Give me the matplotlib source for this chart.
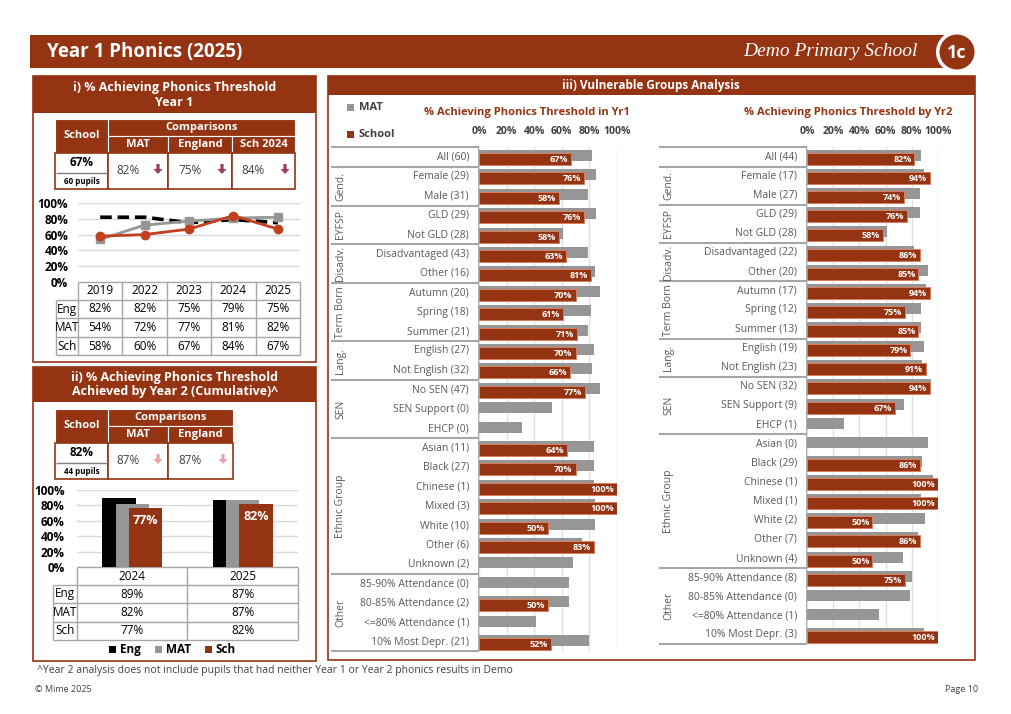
import numpy as np
import matplotlib
matplotlib.use('Agg')
import matplotlib.pyplot as plt
from matplotlib.patches import Rectangle, Circle, Polygon

plt.rcParams['font.family'] = ['Open Sans', 'DejaVu Sans']

# ---------------- data ----------------
years_y1 = ['2019', '2022', '2023', '2024', '2025']
eng_y1 = [82, 82, 75, 79, 75]
mat_y1 = [54, 72, 77, 81, 82]
sch_y1 = [58, 60, 67, 84, 67]

years_y2 = ['2024', '2025']
eng_y2 = [89, 87]
mat_y2 = [82, 87]
sch_y2 = [77, 82]

y1_school, y1_pupils = '67%', '60 pupils'
y1_comp_labels = ['MAT', 'England', 'Sch 2024']
y1_comp_values = ['82%', '75%', '84%']
y2_school, y2_pupils = '82%', '44 pupils'
y2_comp_labels = ['MAT', 'England']
y2_comp_values = ['87%', '87%']

groups = ['', 'Gend.', 'EYFSP', 'Disadv.', 'Term Born', 'Lang.', 'SEN', 'Ethnic Group', 'Other']
group_sizes = [1, 2, 2, 2, 3, 2, 3, 7, 4]

yr1_labels = ['All (60)', 'Female (29)', 'Male (31)', 'GLD (29)', 'Not GLD (28)',
              'Disadvantaged (43)', 'Other (16)', 'Autumn (20)', 'Spring (18)', 'Summer (21)',
              'English (27)', 'Not English (32)', 'No SEN (47)', 'SEN Support (0)', 'EHCP (0)',
              'Asian (11)', 'Black (27)', 'Chinese (1)', 'Mixed (3)', 'White (10)', 'Other (6)',
              'Unknown (2)', '85-90% Attendance (0)', '80-85% Attendance (2)',
              '<=80% Attendance (1)', '10% Most Depr. (21)']
yr1_mat = [82, 85, 79, 85, 61, 79, 84, 88, 81, 79, 83, 82, 88, 53, 31,
           83, 83, 83, 84, 84, 75, 68, 65, 65, 41, 80]
yr1_sch = [67, 76, 58, 76, 58, 63, 81, 70, 61, 71, 70, 66, 77, np.nan, np.nan,
           64, 70, 100, 100, 50, 83, np.nan, np.nan, 50, np.nan, 52]

yr2_labels = ['All (44)', 'Female (17)', 'Male (27)', 'GLD (29)', 'Not GLD (28)',
              'Disadvantaged (22)', 'Other (20)', 'Autumn (17)', 'Spring (12)', 'Summer (13)',
              'English (19)', 'Not English (23)', 'No SEN (32)', 'SEN Support (9)', 'EHCP (1)',
              'Asian (0)', 'Black (29)', 'Chinese (1)', 'Mixed (1)', 'White (2)', 'Other (7)',
              'Unknown (4)', '85-90% Attendance (8)', '80-85% Attendance (0)',
              '<=80% Attendance (1)', '10% Most Depr. (3)']
yr2_mat = [87, 89, 86, 86, 61, 82, 92, 91, 87, 87, 89, 88, 95, 74, 28,
           92, 88, 96, 87, 90, 85, 73, 80, 79, 55, 89]
yr2_sch = [82, 94, 74, 76, 58, 86, 85, 94, 75, 85, 79, 91, 94, 67, np.nan,
           np.nan, 86, 100, 100, 50, 86, 50, 75, np.nan, np.nan, 100]

# ---------------- style ----------------
RED = '#943412'
GREY = '#969696'
LINE = '#a6a6a6'
TXT = '#404040'
W, H = 1012, 714

fig = plt.figure(figsize=(W / 100, H / 100), dpi=100)
bg = fig.add_axes([0, 0, 1, 1])
bg.set_xlim(0, W)
bg.set_ylim(H, 0)
bg.axis('off')


def rect(x0, y0, x1, y1, fc='none', ec='none', lw=1.0, z=1):
    bg.add_patch(Rectangle((x0, y0), x1 - x0, y1 - y0, facecolor=fc, edgecolor=ec,
                           linewidth=lw, zorder=z))


def txt(x, y, s, size=8, color='black', weight='normal', ha='center', va='center', **kw):
    bg.text(x, y, s, fontsize=size, color=color, fontweight=weight, ha=ha, va=va, **kw)


def hline(x0, x1, y, color=LINE, lw=1.0, z=2):
    bg.plot([x0, x1], [y, y], color=color, lw=lw, zorder=z, solid_capstyle='butt')


def vline(x, y0, y1, color=LINE, lw=1.0, z=2):
    bg.plot([x, x], [y0, y1], color=color, lw=lw, zorder=z, solid_capstyle='butt')


def ax_at(x0, y0, x1, y1):
    a = fig.add_axes([x0 / W, 1 - y1 / H, (x1 - x0) / W, (y1 - y0) / H])
    a.patch.set_alpha(0)
    return a


def down_arrow(cx, cy, color):
    pts = [(cx - 1.6, cy - 6), (cx + 1.6, cy - 6), (cx + 1.6, cy - 1), (cx + 4.5, cy - 1),
           (cx, cy + 4), (cx - 4.5, cy - 1), (cx - 1.6, cy - 1)]
    bg.add_patch(Polygon(pts, closed=True, facecolor=color, edgecolor='none', zorder=5))


# ---------------- header ----------------
rect(30, 35, 955, 68, fc=RED, z=1)
txt(47, 52, 'Year 1 Phonics (2025)', size=13.5, color='white', weight='bold', ha='left')
txt(918, 51, 'Demo Primary School', size=14, color='white', ha='right',
    family='Liberation Serif', style='italic')
bg.add_patch(Circle((957, 52), 21, facecolor='white', edgecolor='none', zorder=2))
bg.add_patch(Circle((957, 52), 17.5, facecolor=RED, edgecolor='none', zorder=3))
bg.text(957, 53, '1c', fontsize=13, color='white', fontweight='bold', ha='center',
        va='center', zorder=4)


# ---------------- summary table helper ----------------
def summary_table(top, school, pupils, labels, values, arrow_col, col_edges):
    rect(55, top, 108, top + 34, fc=RED, ec='white', lw=0.8, z=2)
    txt(81.5, top + 17, 'School', size=8, color='white', weight='bold')
    rect(108, top, col_edges[-1], top + 17, fc=RED, ec='white', lw=0.8, z=2)
    txt((108 + col_edges[-1]) / 2, top + 8.5, 'Comparisons', size=8, color='white', weight='bold')
    edges = [108] + col_edges
    for i, lab in enumerate(labels):
        rect(edges[i], top + 17, edges[i + 1], top + 34, fc=RED, ec='white', lw=0.8, z=2)
        txt((edges[i] + edges[i + 1]) / 2, top + 25.5, lab, size=8, color='white', weight='bold')
    vb = top + 34
    vh = 36
    rect(55, vb, 108, vb + vh, fc='white', ec=RED, lw=1.2, z=2)
    hline(56, 107, vb + 20, color='#7f7f7f', lw=1.0, z=3)
    txt(81.5, vb + 10, school, size=8.5, weight='bold')
    txt(81.5, vb + 28, pupils, size=5.8, weight='bold')
    for i, v in enumerate(values):
        rect(edges[i], vb, edges[i + 1], vb + vh, fc='white', ec=RED, lw=1.2, z=2)
        xm = (edges[i] + edges[i + 1]) / 2
        txt(xm - 10, vb + 18, v, size=8.5, color=TXT)
        down_arrow(edges[i + 1] - 10, vb + 17, arrow_col)


# ---------------- panel i ----------------
rect(33, 76, 316, 362, fc='white', ec=RED, lw=1.2, z=0)
rect(33, 76, 316, 113, fc=RED, z=1)
txt(174.5, 95, 'i) % Achieving Phonics Threshold\nYear 1', size=9, color='white', weight='bold',
    linespacing=1.1)
summary_table(119, y1_school, y1_pupils, y1_comp_labels, y1_comp_values, '#9b3a6b',
              [168, 232, 295])

axl = ax_at(78, 203, 300, 282)
xl = np.arange(len(years_y1))
axl.plot(xl, eng_y1, color='black', lw=2.6, ls=(0, (3.2, 1.6)), zorder=3)
axl.plot(xl, mat_y1, color=GREY, lw=2, marker='s', ms=6, zorder=4)
axl.plot(xl, sch_y1, color='#c0401f', lw=2, marker='o', ms=6, zorder=5)
axl.set_xlim(-0.5, len(years_y1) - 0.5)
axl.set_ylim(0, 100)
axl.set_yticks(range(0, 101, 20))
axl.set_yticklabels([f'{v}%' for v in range(0, 101, 20)], fontweight='bold', fontsize=8.5)
axl.set_xticks([])
axl.grid(axis='y', color='#d9d9d9', lw=1)
axl.set_axisbelow(True)
axl.tick_params(length=0, pad=7)
for s in axl.spines.values():
    s.set_visible(False)

cw = (300 - 78) / len(years_y1)
rows_y = [282, 300, 318, 337, 355]
hline(78, 300, 282)
for r in rows_y[1:]:
    hline(56, 300, r)
for i in range(len(years_y1) + 1):
    vline(78 + i * cw, 282, 355)
vline(56, 300, 355)
for i, yv in enumerate(years_y1):
    txt(78 + (i + 0.5) * cw, 291, yv, size=8.5)
for j, (lab, arr) in enumerate(zip(['Eng', 'MAT', 'Sch'], [eng_y1, mat_y1, sch_y1])):
    yc = (rows_y[j + 1] + rows_y[j + 2]) / 2
    txt(67, yc, lab, size=8.5)
    for i, v in enumerate(arr):
        txt(78 + (i + 0.5) * cw, yc, f'{v}%', size=8.5)

# ---------------- panel ii ----------------
rect(33, 367, 316, 661, fc='white', ec=RED, lw=1.2, z=0)
rect(33, 367, 316, 402, fc=RED, z=1)
txt(174.5, 385, 'ii) % Achieving Phonics Threshold\nAchieved by Year 2 (Cumulative)^', size=9,
    color='white', weight='bold', linespacing=1.1)
summary_table(409, y2_school, y2_pupils, y2_comp_labels, y2_comp_values, '#e8a3aa',
              [168, 233])

axb = ax_at(77, 490, 298, 567)
xb = np.arange(len(years_y2))
axb.bar(xb - 0.12, eng_y2, 0.3, color='black', zorder=3)
axb.bar(xb, mat_y2, 0.3, color=GREY, zorder=4)
axb.bar(xb + 0.12, sch_y2, 0.3, color=RED, zorder=5)
for xi, v in zip(xb, sch_y2):
    axb.text(xi + 0.12, v - 17, f'{v}%', color='white', fontweight='bold', fontsize=9,
             ha='center', va='center', zorder=6)
axb.set_xlim(-0.5, len(years_y2) - 0.5)
axb.set_ylim(0, 100)
axb.set_yticks(range(0, 101, 20))
axb.set_yticklabels([f'{v}%' for v in range(0, 101, 20)], fontweight='bold', fontsize=8.5)
axb.set_xticks([])
axb.grid(axis='y', color='#d9d9d9', lw=1)
axb.set_axisbelow(True)
axb.tick_params(length=0, pad=9)
for s in axb.spines.values():
    s.set_visible(False)

cw2 = (298 - 77) / len(years_y2)
rows2 = [567, 585, 603, 622, 640]
for r in rows2:
    hline(77 if r == 567 else 53, 298, r)
for i in range(len(years_y2) + 1):
    vline(77 + i * cw2, 567, 640)
vline(53, 585, 640)
for i, yv in enumerate(years_y2):
    txt(77 + (i + 0.5) * cw2, 576, yv, size=8.5)
for j, (lab, arr) in enumerate(zip(['Eng', 'MAT', 'Sch'], [eng_y2, mat_y2, sch_y2])):
    yc = (rows2[j + 1] + rows2[j + 2]) / 2
    txt(65, yc, lab, size=8.5)
    for i, v in enumerate(arr):
        txt(77 + (i + 0.5) * cw2, yc, f'{v}%', size=8.5)
for x0, col, lab in [(113, 'black', 'Eng'), (159, GREY, 'MAT'), (209, RED, 'Sch')]:
    rect(x0 - 3.5, 646, x0 + 3.5, 653, fc=col, z=3)
    txt(x0 + 7, 649.5, lab, size=8.5, weight='bold', ha='left')

# ---------------- panel iii ----------------
rect(328, 76, 975, 660, fc='white', ec=RED, lw=1.2, z=0)
rect(328, 76, 975, 95, fc=RED, z=1)
txt(651, 85.5, 'iii) Vulnerable Groups Analysis', size=8.5, color='white', weight='bold')
rect(347, 104, 354, 111, fc=GREY, z=3)
txt(359, 107.5, 'MAT', size=8, weight='bold', color=TXT, ha='left')
rect(347, 131, 354, 138, fc=RED, z=3)
txt(359, 134.5, 'School', size=8, weight='bold', color=TXT, ha='left')


def group_chart(labels, mat, sch, lab_x0, x0, x1, top, first, last, bottom, title, title_x):
    n = len(labels)
    s = (last - first) / (n - 1)
    ax = ax_at(x0, top, x1, bottom)
    ax.set_xlim(0, 100)
    ax.set_ylim((bottom - first) / s, (top - first) / s)
    idx = np.arange(n)
    ax.barh(idx - 1.5 / s, mat, height=11 / s, color=GREY, zorder=3)
    sch_arr = np.array(sch, dtype=float)
    ok = ~np.isnan(sch_arr)
    ax.barh(idx[ok] + 2 / s, sch_arr[ok], height=12 / s, color=RED, edgecolor='#d9805f',
            linewidth=0.7, zorder=4)
    for i in idx[ok]:
        v = sch_arr[i]
        ax.text(v - 2.2, i + 2.5 / s, f'{int(v)}%', color='white', fontweight='bold',
                fontsize=6.5, ha='right', va='center', zorder=5)
    ax.set_xticks(range(0, 101, 20))
    ax.set_xticklabels([f'{v}%' for v in range(0, 101, 20)], fontweight='bold', fontsize=7.5,
                       color=TXT)
    ax.xaxis.set_ticks_position('top')
    ax.tick_params(length=0, pad=7)
    ax.set_yticks([])
    ax.grid(axis='x', color='#e0e0e0', lw=1)
    ax.set_axisbelow(True)
    for sp in ax.spines.values():
        sp.set_visible(False)
    hline(lab_x0, x0, top, lw=1.5)
    hline(lab_x0, x0, bottom, lw=1.5)
    vline(x0, top, bottom, lw=1.3)
    start = 0
    for g, gs in zip(groups, group_sizes):
        end = start + gs
        if end < n:
            hline(lab_x0, x0, first + (end - 0.5) * s, lw=1.5)
        if g:
            txt(lab_x0 + 10, first + ((start + end - 1) / 2) * s, g, size=7.5, color='#595959',
                rotation=90)
        start = end
    for i, lab in enumerate(labels):
        txt(x0 - 10, first + i * s, lab, size=7.5, color='#595959', ha='right')
    txt(title_x, 112, title, size=8, color=RED, weight='bold')


group_chart(yr1_labels, yr1_mat, yr1_sch, 331, 479, 617, 147, 157, 642, 651,
            '% Achieving Phonics Threshold in Yr1', 527)
group_chart(yr2_labels, yr2_mat, yr2_sch, 659, 807, 938, 147, 157, 635, 644,
            '% Achieving Phonics Threshold by Yr2', 848)

# ---------------- footer ----------------
txt(37, 670, '^Year 2 analysis does not include pupils that had neither Year 1 or Year 2 phonics '
    'results in Demo', size=7.5, color=TXT, ha='left')
txt(35, 689, '\u00a9 Mime 2025', size=6.5, color=TXT, ha='left')
txt(978, 689, 'Page 10', size=6.5, color=TXT, ha='right')

fig.savefig('out.png', dpi=100)
